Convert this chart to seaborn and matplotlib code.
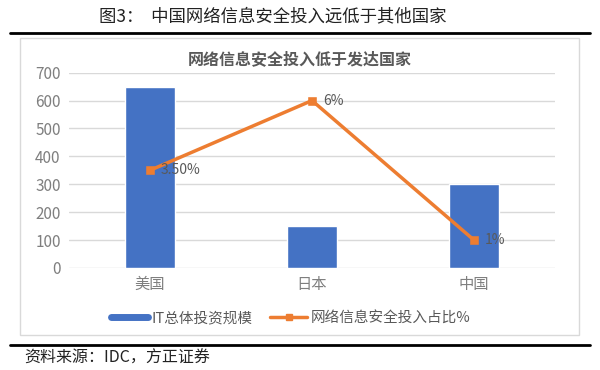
import pandas as pd
import matplotlib
matplotlib.use('Agg')
import matplotlib.pyplot as plt
import seaborn as sns
from matplotlib.lines import Line2D
from matplotlib.patches import Rectangle

countries = ['美国', '日本', '中国']
it_invest = [650, 150, 300]
security_share = [350, 600, 100]
share_labels = ['3.50%', '6%', '1%']

sns.set_theme(style='white')
plt.rcParams['font.family'] = ['Noto Sans CJK SC', 'DejaVu Sans']

df = pd.DataFrame({'country': countries, 'it': it_invest, 'share': security_share})

blue = '#4472C4'
orange = '#ED7D31'
grey = '#595959'
tick_grey = '#7F7F7F'

fig = plt.figure(figsize=(6, 3.7), dpi=100)
ax = fig.add_axes([0.115, 0.2757, 0.81, 0.528])

sns.barplot(data=df, x='country', y='it', color=blue, width=0.31, saturation=1, ax=ax)
sns.pointplot(data=df, x='country', y='share', color=orange, markers='s',
              linestyles='-', markersize=5, linewidth=2.5, ax=ax)

for i, lab in enumerate(share_labels):
    ax.annotate(lab, (i, security_share[i]), xytext=(8, 0), textcoords='offset points',
                va='center', ha='left', fontsize=10, color=grey)

ax.set_ylim(0, 700)
ax.set_yticks(range(0, 701, 100))
ax.set_xlim(-0.5, 2.5)
ax.yaxis.grid(True, color='#D9D9D9', lw=1)
ax.set_axisbelow(True)
for s in ax.spines.values():
    s.set_visible(False)
ax.set_xlabel('')
ax.set_ylabel('')
ax.tick_params(axis='both', colors=tick_grey, labelsize=11, length=0, pad=6)

handles = [Line2D([], [], color=blue, lw=5),
           Line2D([], [], color=orange, lw=2.5, marker='s', markersize=5)]
fig.legend(handles, ['IT总体投资规模', '网络信息安全投入占比%'], loc='center',
           bbox_to_anchor=(0.485, 0.14), ncol=2, frameon=False, fontsize=10.5,
           labelcolor=grey, handlelength=2.5, columnspacing=1.2, handletextpad=0.3)

fig.text(0.5, 0.84, '网络信息安全投入低于发达国家', ha='center', va='center',
         fontsize=11.5, fontweight='bold', color=grey)
fig.text(0.455, 0.957, '图3：  中国网络信息安全投入远低于其他国家', ha='center', va='center',
         fontsize=12.5, fontweight='medium', color='#222222')
fig.text(0.04, 0.032, '资料来源：IDC，方正证券', ha='left', va='center',
         fontsize=11.5, style='italic', color='#222222')

fig.add_artist(Line2D([0.017, 0.983], [0.911, 0.911], color='black', lw=2))
fig.add_artist(Line2D([0.017, 0.983], [0.068, 0.068], color='black', lw=2))
fig.add_artist(Rectangle((0.033, 0.095), 0.932, 0.803, fill=False,
                         edgecolor='#D9D9D9', lw=1))

fig.savefig('out.png', dpi=100)
